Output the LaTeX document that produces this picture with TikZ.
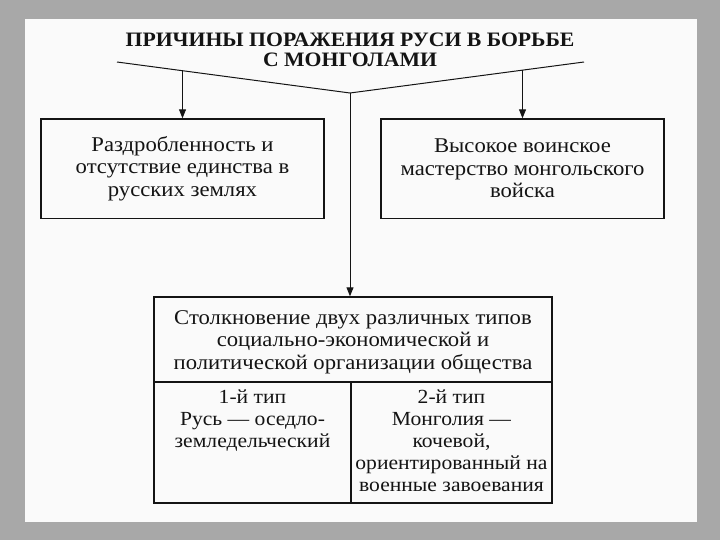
\documentclass[tikz,border=0pt]{standalone}
\usepackage{fontspec}
\setmainfont{Liberation Serif}
\newfontfamily\bodyfont[FakeStretch=1.08]{Liberation Serif}
\newfontfamily\titlefont[FakeStretch=1.06]{Liberation Serif}
\usetikzlibrary{arrows.meta,calc}
\definecolor{pagegray}{HTML}{A8A8A8}
\definecolor{paper}{HTML}{FAFAFA}
\definecolor{ink}{HTML}{141414}
\tikzset{
  boxstyle/.style={draw=ink, line width=1.4bp, minimum width=#1, inner sep=0pt},
  bodytext/.style={text=ink, align=center, font=\bodyfont\fontsize{21bp}{22.5bp}\selectfont, inner sep=0pt},
  celltext/.style={text=ink, align=center, font=\bodyfont\fontsize{20bp}{22.2bp}\selectfont, inner sep=0pt},
  conn/.style={draw=ink, line width=1bp},
  arr/.style={conn, -{Triangle[length=9bp,width=7bp]}}
}
\begin{document}
\begin{tikzpicture}[x=1bp,y=-1bp]
\fill[pagegray] (0,0) rectangle (720,540);
\useasboundingbox (0,0) rectangle (720,540);
\fill[paper] (25,19) rectangle (697,522);

% title
\node[text=ink, align=center, inner sep=0pt, font=\titlefont\bfseries\fontsize{20.5bp}{19.5bp}\selectfont] (title) at (350,50)
  {ПРИЧИНЫ ПОРАЖЕНИЯ РУСИ В БОРЬБЕ\\С МОНГОЛАМИ};

% boxes
\node[boxstyle=283bp, minimum height=99.5bp] (lbox) at (182.5,168.75) {};
\node[boxstyle=283bp, minimum height=99.5bp] (rbox) at (522.5,168.75) {};
\node[bodytext] (ltext) at (182.5,168.5) {Раздробленность и\\отсутствие единства в\\русских землях};
\node[bodytext] (rtext) at (522.5,168.5) {Высокое воинское\\мастерство монгольского\\войска};

% bottom table
\node[boxstyle=398bp, minimum height=85bp] (top) at (353,339.5) {};
\node[boxstyle=197bp, minimum height=121bp] (lcell) at (252.5,442.5) {};
\node[boxstyle=201bp, minimum height=121bp] (rcell) at (451.5,442.5) {};
\node[bodytext] (toptext) at (353,342) {Столкновение двух различных типов\\социально-экономической и\\политической организации общества};
\node[celltext, anchor=north] (ltext2) at ($(lcell.north)+(0,8)$) {1-й тип\\Русь — оседло-\\земледельческий};
\node[celltext, anchor=north] (rtext2) at ($(rcell.north)+(0,8)$) {2-й тип\\Монголия —\\кочевой,\\ориентированный на\\военные завоевания};

% connectors
\coordinate (L) at (117,62);
\coordinate (R) at (584,62);
\coordinate (J) at (350,93);
\coordinate (la) at (182.5,70.7);
\coordinate (ra) at (522.5,70.1);
\draw[conn] (L) -- (J) -- (R);
\draw[arr] (la) -- (lbox.north);
\draw[arr] (ra) -- (rbox.north);
\draw[arr] (J) -- (J |- top.north);
\end{tikzpicture}
\end{document}
